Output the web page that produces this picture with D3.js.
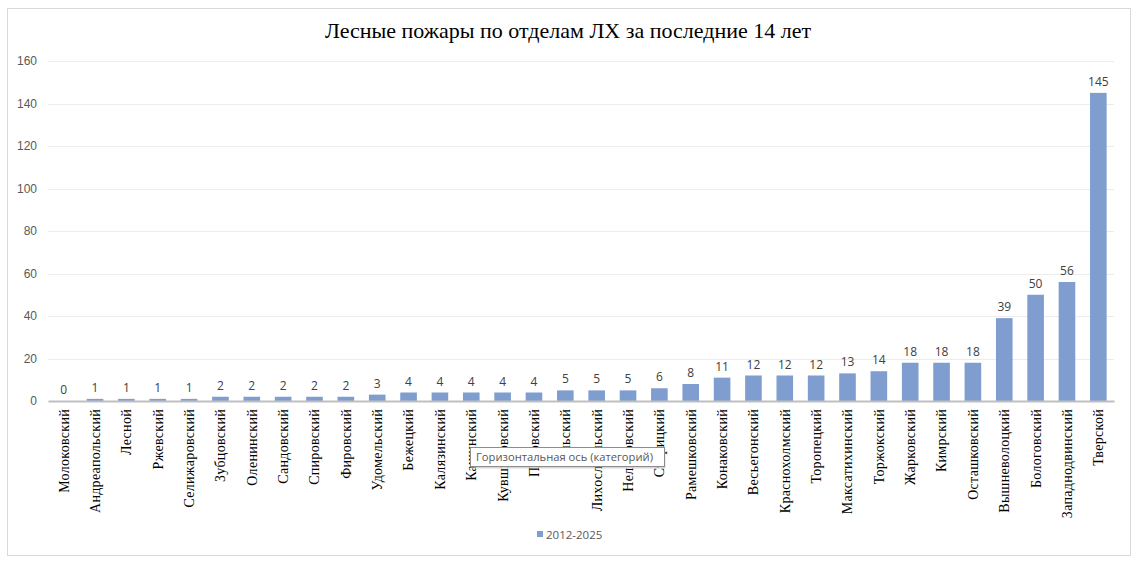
<!DOCTYPE html>
<html>
<head>
<meta charset="utf-8">
<script src="https://cdn.jsdelivr.net/npm/d3@7.9.0/dist/d3.min.js"></script>
<style>
  body { margin: 0; background: #fff; }
  svg { display: block; }
</style>
</head>
<body>
<svg id="chart" width="1139" height="564"></svg>
<script>
const categories = [
  'Молоковский', 'Андреапольский', 'Лесной', 'Ржевский', 'Селижаровский',
  'Зубцовский', 'Оленинский', 'Сандовский', 'Спировский', 'Фировский',
  'Удомельский', 'Бежецкий', 'Калязинский', 'Кашинский', 'Кувшиновский',
  'Пеновский', 'Бельский', 'Лихославльский', 'Нелидовский', 'Старицкий',
  'Рамешковский', 'Конаковский', 'Весьегонский', 'Краснохолмский', 'Торопецкий',
  'Максатихинский', 'Торжокский', 'Жарковский', 'Кимрский', 'Осташковский',
  'Вышневолоцкий', 'Бологовский', 'Западнодвинский', 'Тверской'
];
const fires = [
  0, 1, 1, 1, 1,
  2, 2, 2, 2, 2,
  3, 4, 4, 4, 4,
  4, 5, 5, 5, 6,
  8, 11, 12, 12, 12,
  13, 14, 18, 18, 18,
  39, 50, 56, 145
];
const yTicks = [0, 20, 40, 60, 80, 100, 120, 140, 160];
const seriesName = '2012-2025';
const title = 'Лесные пожары по отделам ЛХ за последние 14 лет';

const svg = d3.select('#chart');

// chart frame
svg.append('rect')
  .attr('x', 7.5).attr('y', 8.5)
  .attr('width', 1123).attr('height', 547)
  .attr('fill', '#fff')
  .attr('stroke', '#d9d9d9');

const margin = { left: 48, right: 1114, top: 61, bottom: 401 };

const x = d3.scaleBand()
  .domain(categories)
  .range([margin.left, margin.right])
  .paddingInner(0.47)
  .paddingOuter(0.235);

const y = d3.scaleLinear()
  .domain([0, 160])
  .range([margin.bottom, margin.top]);

// gridlines
svg.append('g')
  .selectAll('line')
  .data(yTicks.filter(d => d > 0))
  .join('line')
  .attr('x1', margin.left).attr('x2', margin.right)
  .attr('y1', d => Math.round(y(d)) + 0.5)
  .attr('y2', d => Math.round(y(d)) + 0.5)
  .attr('stroke', '#ececec');

// y axis labels
const yAxis = svg.append('g')
  .attr('transform', `translate(${margin.left},0)`)
  .call(d3.axisLeft(y).tickValues(yTicks).tickSize(0).tickPadding(11));
yAxis.select('.domain').remove();
yAxis.selectAll('text')
  .attr('fill', '#595959')
  .style('font-family', '"Liberation Sans", Arial, sans-serif')
  .style('font-size', '12px');

// bars
svg.append('g')
  .selectAll('rect')
  .data(fires)
  .join('rect')
  .attr('x', (d, i) => x(categories[i]))
  .attr('width', x.bandwidth())
  .attr('y', d => y(d))
  .attr('height', d => y(0) - y(d))
  .attr('fill', '#7f9ecf');

// value labels
svg.append('g')
  .selectAll('text')
  .data(fires)
  .join('text')
  .attr('x', (d, i) => x(categories[i]) + x.bandwidth() / 2)
  .attr('y', d => y(d) - 7)
  .attr('text-anchor', 'middle')
  .attr('fill', '#404040')
  .style('font-family', '"Open Sans", "Liberation Sans", sans-serif')
  .style('font-size', '12px')
  .text(d => d);

// x axis
const xAxis = svg.append('g')
  .attr('transform', `translate(0,${margin.bottom})`)
  .call(d3.axisBottom(x).tickSize(0).tickPadding(0));
xAxis.select('.domain')
  .attr('stroke', '#bfbfbf')
  .attr('stroke-width', 2);
xAxis.selectAll('text')
  .attr('transform', 'rotate(-90)')
  .attr('x', -8)
  .attr('y', 0)
  .attr('dy', '0.35em')
  .attr('text-anchor', 'end')
  .attr('fill', '#000')
  .style('font-family', '"Liberation Serif", "Times New Roman", serif')
  .style('font-size', '14px')
  .style('letter-spacing', '0.3px');

// title
svg.append('text')
  .attr('x', 568)
  .attr('y', 38)
  .attr('text-anchor', 'middle')
  .attr('fill', '#000')
  .style('font-family', '"Liberation Serif", "Times New Roman", serif')
  .style('font-size', '22px')
  .text(title);

// legend
const legend = svg.append('g').attr('transform', 'translate(537,530)');
legend.append('rect')
  .attr('width', 6).attr('height', 6)
  .attr('y', 1)
  .attr('fill', '#7f9ecf');
legend.append('text')
  .attr('x', 9).attr('y', 9)
  .attr('fill', '#595959')
  .style('font-family', '"Open Sans", "Liberation Sans", sans-serif')
  .style('font-size', '11.5px')
  .text(seriesName);

// hover tooltip visible in the screenshot
const tip = svg.append('g').attr('transform', 'translate(470,447)');
tip.append('rect')
  .attr('x', 1.5).attr('y', 1.5)
  .attr('width', 194).attr('height', 20)
  .attr('fill', '#b0b0b0').attr('opacity', 0.5);
tip.append('rect')
  .attr('x', 0.5).attr('y', 0.5)
  .attr('width', 194).attr('height', 19)
  .attr('fill', '#fff')
  .attr('stroke', '#8c8c8c');
tip.append('text')
  .attr('x', 6).attr('y', 14)
  .attr('fill', '#575757')
  .style('font-family', '"Open Sans", "Noto Sans", sans-serif')
  .style('font-size', '11.2px')
  .text('Горизонтальная ось (категорий)');
</script>
</body>
</html>
